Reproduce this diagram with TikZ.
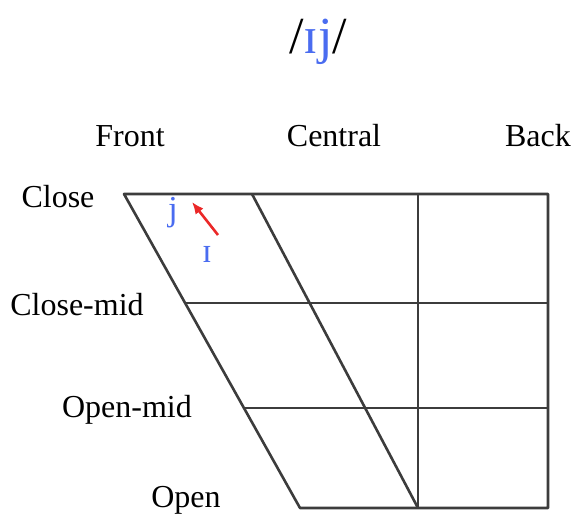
\documentclass[tikz,border=0pt]{standalone}
\usepackage{fontspec}
\setmainfont{Liberation Serif}
\usepackage{xcolor}
\usetikzlibrary{arrows.meta}

\definecolor{vowelblue}{RGB}{74,108,240}
\definecolor{arrowred}{RGB}{235,40,40}
\definecolor{gridgray}{RGB}{60,60,60}

\begin{document}
\begin{tikzpicture}[
    x=0.5pt,
    y=-0.5pt,
    every node/.style={
        font=\fontsize{16}{19}\selectfont,
        inner sep=0pt
    },
    axislabel/.style={
        anchor=base
    },
    vowel/.style={
        anchor=base,
        text=vowelblue,
        font=\fontsize{17.5}{20}\selectfont
    },
    gridline/.style={
        draw=gridgray,
        line width=1.3pt,
        line join=round
    },
    glide/.style={
        -{Latex[length=6pt, width=5pt]},
        draw=arrowred,
        line width=1.3pt
    }
]

\useasboundingbox (0,0) rectangle (576,518);

% title
\node[anchor=base, font=\fontsize{26}{30}\selectfont] (title) at (318,54)
    {/\textcolor{vowelblue}{ɪj}/};

% column and row labels
\node[axislabel] (front)   at (130,147) {Front};
\node[axislabel] (central) at (334,147) {Central};
\node[axislabel] (back)    at (538,147) {Back};

\node[axislabel] (close)    at (58,207)  {Close};
\node[axislabel] (closemid) at (77,315)  {Close-mid};
\node[axislabel] (openmid)  at (127,417) {Open-mid};
\node[axislabel] (open)     at (186,507) {Open};

% chart corners
\coordinate (closeL)   at (124,194);
\coordinate (centralT) at (252,194);
\coordinate (backT)    at (418,194);
\coordinate (closeR)   at (548,194);
\coordinate (cmL)      at (185,303);
\coordinate (cmR)      at (548,303);
\coordinate (omL)      at (244,408);
\coordinate (omR)      at (548,408);
\coordinate (openL)    at (300,508);
\coordinate (backB)    at (418,508);
\coordinate (openR)    at (548,508);

\draw[gridline] (closeL) -- (closeR) -- (openR) -- (openL) -- cycle;
\draw[gridline] (centralT) -- (backB);
\draw[gridline] (backT) -- (backB);
\draw[gridline] (cmL) -- (cmR);
\draw[gridline] (omL) -- (omR);

% vowels
\node[vowel] (j)  at (173,220) {j};
\node[vowel] (ii) at (207,262) {ɪ};

\coordinate (glidestart) at (218,235);
\coordinate (glideend)   at (192,202);
\draw[glide] (glidestart) -- (glideend);

\end{tikzpicture}
\end{document}
